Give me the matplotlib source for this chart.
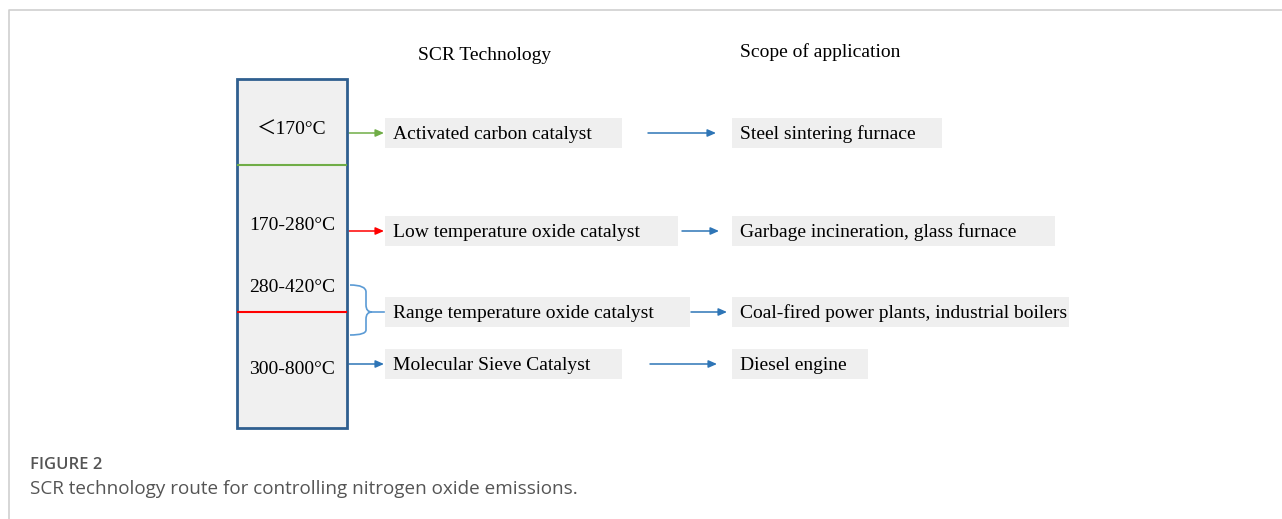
import matplotlib.pyplot as plt
from matplotlib.patches import Rectangle, FancyArrowPatch
from matplotlib.path import Path
from matplotlib.patches import PathPatch

# data
temps = ['＜170°C', '170-280°C', '280-420°C', '300-800°C']
catalysts = ['Activated carbon catalyst', 'Low temperature oxide catalyst',
             'Range temperature oxide catalyst', 'Molecular Sieve Catalyst']
applications = ['Steel sintering furnace', 'Garbage incineration, glass furnace',
                'Coal-fired power plants, industrial boilers', 'Diesel engine']
link_colors = ['#70ad47', '#ff0000', '#5b9bd5', '#2e75b6']

# layout (pixel coords)
temp_y = [130, 226, 287, 370]
row_y = [133, 231, 312, 364]
cat_w = [237, 293, 305, 237]
app_w = [210, 323, 337, 136]
arrow2 = [(648, 716), (682, 719), (691, 727), (650, 717)]

W, H = 1282, 519
fig = plt.figure(figsize=(W / 100, H / 100), dpi=100)
ax = fig.add_axes([0, 0, 1, 1])
ax.set_xlim(0, W)
ax.set_ylim(H, 0)
ax.axis('off')

serif = ['Liberation Serif', 'Noto Sans CJK SC']
blue = '#2e75b6'
arrow_style = '-|>,head_length=5,head_width=2.2'

# outer frame of the figure panel
ax.plot([9, 9, W], [H, 10, 10], color='#cfcfcf', lw=1.2)

# temperature column
ax.add_patch(Rectangle((237, 79), 110, 349, facecolor='#f0f0f0',
                       edgecolor='#2f5f8f', lw=2, zorder=2))
ax.plot([238, 346], [165, 165], color='#70ad47', lw=1.5, zorder=3)
ax.plot([238, 346], [312, 312], color='#ff0000', lw=1.5, zorder=3)
for t, y in zip(temps, temp_y):
    ax.text(292, y, t, family=serif, fontsize=14, ha='center', va='center', zorder=4)

# headers
ax.text(485, 55, 'SCR Technology', family=serif, fontsize=14, ha='center', va='center')
ax.text(820, 52, 'Scope of application', family=serif, fontsize=14, ha='center', va='center')

# catalyst and application boxes
for i in range(4):
    y = row_y[i]
    ax.add_patch(Rectangle((385, y - 15), cat_w[i], 30, facecolor='#efefef',
                           edgecolor='none', zorder=1))
    ax.text(393, y + 1.5, catalysts[i], family=serif, fontsize=14, ha='left', va='center')
    ax.add_patch(Rectangle((732, y - 15), app_w[i], 30, facecolor='#efefef',
                           edgecolor='none', zorder=1))
    ax.text(740, y + 1.5, applications[i], family=serif, fontsize=14, ha='left', va='center')
    x0, x1 = arrow2[i]
    ax.add_patch(FancyArrowPatch((x0, y), (x1, y), arrowstyle=arrow_style,
                                 color=blue, lw=1.1, mutation_scale=1.0,
                                 shrinkA=0, shrinkB=0))
    if i != 2:
        ax.add_patch(FancyArrowPatch((349, y), (384, y), arrowstyle=arrow_style,
                                     color=link_colors[i], lw=1.1, mutation_scale=1.0,
                                     shrinkA=0, shrinkB=0))

# curly bracket for the mid range
verts = [(350, 285), (366, 285), (366, 292), (366, 292),
         (366, 305), (366, 312), (372, 312),
         (366, 312), (366, 319), (366, 319),
         (366, 330), (366, 335), (350, 335)]
codes = [Path.MOVETO, Path.CURVE3, Path.CURVE3, Path.LINETO,
         Path.LINETO, Path.CURVE3, Path.CURVE3,
         Path.CURVE3, Path.CURVE3, Path.LINETO,
         Path.LINETO, Path.CURVE3, Path.CURVE3]
ax.add_patch(PathPatch(Path(verts, codes), facecolor='none', edgecolor=link_colors[2], lw=1.2))
ax.plot([372, 384], [312, 312], color=link_colors[2], lw=1.2)

# caption
ax.text(30, 465, 'FIGURE 2', family='Open Sans', fontsize=12, color='#555555',
        ha='left', va='center', fontweight='semibold')
ax.text(30, 489, 'SCR technology route for controlling nitrogen oxide emissions.',
        family='Open Sans', fontsize=13.6, color='#555555', ha='left', va='center')

fig.savefig('out.png', dpi=100)
